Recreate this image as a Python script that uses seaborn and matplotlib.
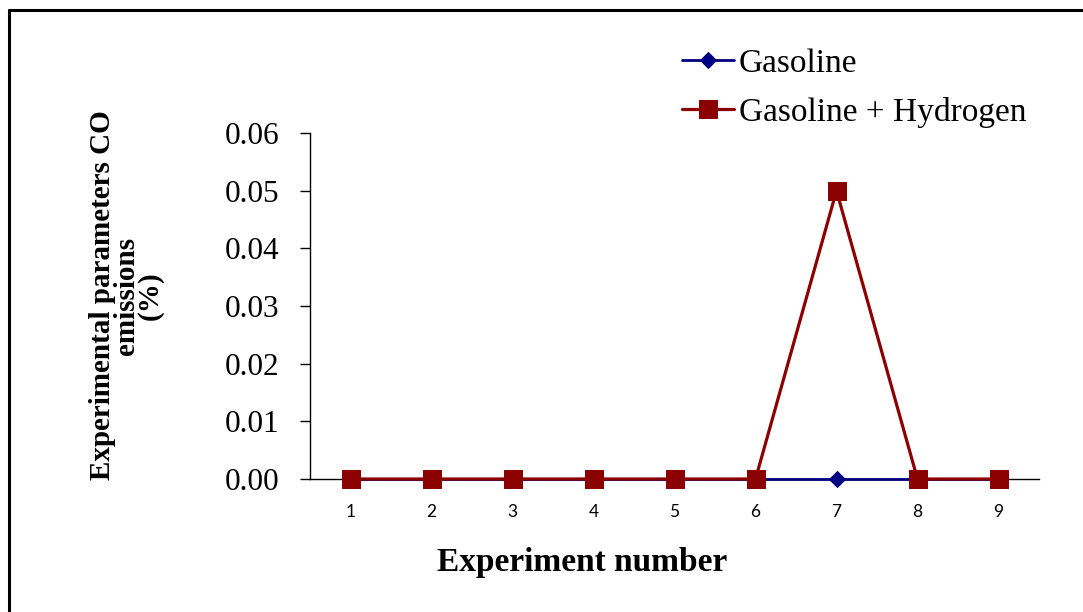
import matplotlib
matplotlib.use("Agg")
import matplotlib.pyplot as plt
from matplotlib.lines import Line2D
import seaborn as sns
import pandas as pd

# CO emissions per experiment
experiments = [1, 2, 3, 4, 5, 6, 7, 8, 9]
gasoline = [0.0, 0.0, 0.0, 0.0, 0.0, 0.0, 0.0, 0.0, 0.0]
gasoline_hydrogen = [0.0, 0.0, 0.0, 0.0, 0.0, 0.0, 0.05, 0.0, 0.0]
y_ticks = [0.00, 0.01, 0.02, 0.03, 0.04, 0.05, 0.06]

sns.set_style("ticks")
plt.rcParams["font.family"] = ["Liberation Serif", "DejaVu Serif"]
plt.rcParams["text.color"] = "black"
plt.rcParams["axes.labelcolor"] = "black"
plt.rcParams["xtick.color"] = "black"
plt.rcParams["ytick.color"] = "black"

df = pd.DataFrame({"exp": experiments, "gas": gasoline, "gash": gasoline_hydrogen})

fig = plt.figure(figsize=(10.83, 6.12), dpi=100)
ax = fig.add_axes([310 / 1083, 1 - 479 / 612, 729 / 1083, 346 / 612])

sns.lineplot(data=df, x="exp", y="gas", ax=ax, color="#000080", lw=2,
             marker="D", markersize=8, markeredgecolor="#000080",
             label="Gasoline", clip_on=False, zorder=3)
sns.lineplot(data=df, x="exp", y="gash", ax=ax, color="#8B0000", lw=2.3,
             marker="s", markersize=13.5, markeredgecolor="#8B0000",
             label="Gasoline + Hydrogen", clip_on=False, zorder=4)

ax.set_xlim(0.5, 9.5)
ax.set_ylim(0, 0.06)
ax.set_xticks(experiments)
ax.set_xticklabels([str(e) for e in experiments], fontfamily="Lato", fontsize=12.5)
ax.set_yticks(y_ticks)
ax.set_yticklabels([f"{v:.2f}" for v in y_ticks], fontsize=22.5)
ax.tick_params(axis="x", length=0, pad=18)
ax.tick_params(axis="y", length=7.2, width=1, direction="out", pad=15)
for s in ("top", "right"):
    ax.spines[s].set_visible(False)
for s in ("left", "bottom"):
    ax.spines[s].set_linewidth(1)
    ax.spines[s].set_color("black")

ax.set_xlabel("Experiment number", fontsize=24, fontweight="bold")
ax.xaxis.set_label_coords(0.373, -0.24)
ax.xaxis.label.set_va("center")
ax.set_ylabel("Experimental parameters CO\nemissions\n(%)", fontsize=21,
              fontweight="bold", linespacing=0.85, multialignment="center")
ax.yaxis.set_label_coords(-0.252, 0.53)
ax.yaxis.label.set_va("center")

leg = ax.legend(loc="upper left", bbox_to_anchor=(682 / 1083, 1 - 48 / 612),
                bbox_transform=fig.transFigure, frameon=False, fontsize=24,
                handlelength=1.55, handletextpad=0.15, labelspacing=0.55,
                borderpad=0, borderaxespad=0)

# outer frame (top and left edges)
fig.add_artist(Line2D([9 / 1083, 1], [1 - 10 / 612, 1 - 10 / 612],
                      transform=fig.transFigure, color="black", lw=2.2))
fig.add_artist(Line2D([9 / 1083, 9 / 1083], [0, 1 - 10 / 612],
                      transform=fig.transFigure, color="black", lw=2.2))

fig.savefig("out.png", dpi=100)
